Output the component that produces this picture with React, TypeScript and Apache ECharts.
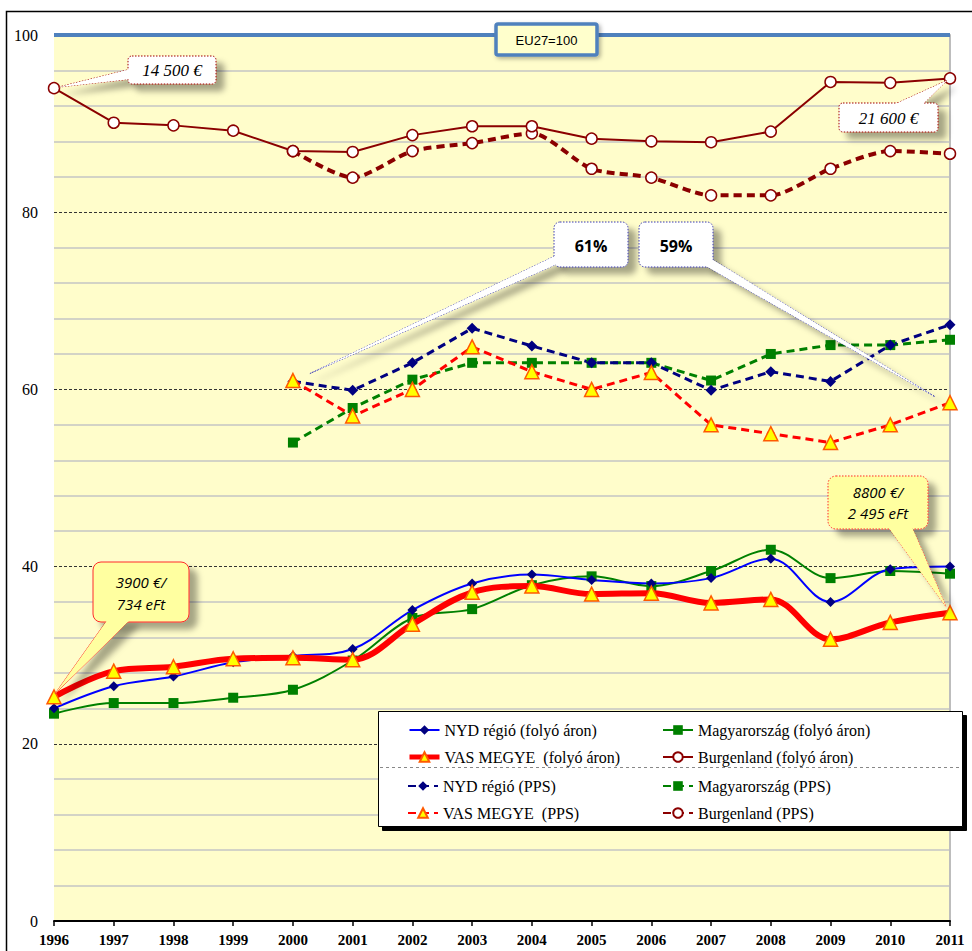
import React, { useEffect, useRef } from "react";
import * as echarts from "echarts";

const years = ["1996", "1997", "1998", "1999", "2000", "2001", "2002", "2003", "2004", "2005", "2006", "2007", "2008", "2009", "2010", "2011"];

const nydCurrent = [24.0, 26.5, 27.6, 29.2, 29.9, 30.7, 35.1, 38.1, 39.1, 38.5, 38.1, 38.7, 40.9, 36.0, 39.7, 40.0];
const huCurrent = [23.4, 24.6, 24.6, 25.2, 26.1, 29.4, 34.2, 35.2, 37.9, 38.9, 37.8, 39.5, 41.9, 38.7, 39.5, 39.2];
const vasCurrent = [25.3, 28.2, 28.7, 29.6, 29.7, 29.5, 33.5, 37.1, 37.8, 36.9, 37.0, 35.9, 36.3, 31.8, 33.7, 34.8];
const burgCurrent = [94.0, 90.1, 89.8, 89.2, 86.9, 86.8, 88.7, 89.7, 89.7, 88.3, 88.0, 87.9, 89.1, 94.7, 94.6, 95.1];

const nydPPS = [null, null, null, null, 60.9, 59.9, 63.0, 66.9, 64.9, 63.0, 63.0, 59.9, 62.0, 60.9, 65.0, 67.3];
const huPPS = [null, null, null, null, 54.0, 57.9, 61.1, 63.0, 63.0, 63.0, 63.0, 61.0, 64.0, 65.0, 65.0, 65.6];
const vasPPS = [null, null, null, null, 61.0, 57.0, 60.0, 64.8, 62.0, 60.0, 61.9, 56.0, 55.0, 54.0, 56.0, 58.5];
const burgPPS = [null, null, null, null, 86.9, 83.9, 86.9, 87.8, 88.9, 84.9, 83.9, 81.9, 81.9, 84.9, 86.9, 86.6];

const names = {
  nydC: "NYD régió (folyó áron)",
  huC: "Magyarország (folyó áron)",
  vasC: "VAS MEGYE  (folyó áron)",
  burgC: "Burgenland (folyó áron)",
  nydP: "NYD régió (PPS)",
  huP: "Magyarország (PPS)",
  vasP: "VAS MEGYE  (PPS)",
  burgP: "Burgenland (PPS)",
};

const SERIF = "'Liberation Serif', 'Times New Roman', serif";
const SANS = "'Open Sans', 'Liberation Sans', sans-serif";
const DASH = [8, 5];

export default function App() {
  const ref = useRef<HTMLDivElement>(null);

  useEffect(() => {
    if (!ref.current) return;
    const chart = echarts.init(ref.current, null, { renderer: "svg" });

    const tri = { color: "#FFFF00", borderColor: "#FF5A00", borderWidth: 1.5 };
    const legendBase = {
      orient: "vertical" as const,
      itemWidth: 30,
      itemHeight: 12,
      itemGap: 9,
      textStyle: { fontFamily: SERIF, fontSize: 16, color: "#000", lineHeight: 18 },
      z: 6,
    };

    chart.setOption({
      animation: false,
      backgroundColor: "#ffffff",
      grid: { left: 54, right: 22, top: 35, bottom: 30, show: true, backgroundColor: "#FFFDCB", borderWidth: 0 },
      legend: [
        {
          ...legendBase,
          left: 402,
          top: 716,
          data: [{ name: names.nydC }, { name: names.vasC, lineStyle: { width: 5 } }],
        },
        { ...legendBase, left: 657, top: 716, data: [names.huC, names.burgC] },
        { ...legendBase, left: 402, top: 772, data: [names.nydP, names.vasP] },
        { ...legendBase, left: 657, top: 772, data: [names.huP, names.burgP] },
      ],
      xAxis: {
        type: "category",
        data: years,
        boundaryGap: false,
        axisLine: { lineStyle: { color: "#000", width: 2 } },
        axisTick: { show: true, length: 5, lineStyle: { color: "#000", width: 1.5 } },
        axisLabel: { fontFamily: SERIF, fontSize: 15, fontWeight: "bold", color: "#000", margin: 11 },
        splitLine: { show: false },
      },
      yAxis: [
        {
          type: "value",
          min: 0,
          max: 100,
          interval: 4,
          axisLine: {
            show: true,
            lineStyle: { color: "#9A9A9A", width: 3, shadowColor: "rgba(0,0,0,0.35)", shadowBlur: 4, shadowOffsetX: -2 },
          },
          axisTick: { show: false },
          axisLabel: {
            fontFamily: SERIF,
            fontSize: 16,
            color: "#000",
            margin: 16,
            formatter: (v: number) => (v % 20 === 0 ? String(v) : ""),
          },
          splitLine: {
            show: true,
            lineStyle: { color: ["rgba(0,0,0,0)", "#C4C4C4", "#C4C4C4", "#C4C4C4", "#C4C4C4"], width: 1.5 },
          },
        },
        {
          type: "value",
          min: 0,
          max: 100,
          interval: 20,
          position: "right",
          axisLine: { show: true, lineStyle: { color: "#BDBDBD", width: 2 } },
          axisTick: { show: false },
          axisLabel: { show: false },
          splitLine: { show: true, lineStyle: { color: "#333", width: 1, type: [3, 2] } },
        },
      ],
      series: [
        {
          name: names.burgP,
          type: "line",
          data: burgPPS,
          smooth: 0.25,
          symbol: "circle",
          symbolSize: 11,
          lineStyle: { color: "#8B0000", width: 4, type: DASH },
          itemStyle: { color: "#FFFFFF", borderColor: "#8B0000", borderWidth: 1.5 },
          z: 3,
        },
        {
          name: names.burgC,
          type: "line",
          data: burgCurrent,
          symbol: "circle",
          symbolSize: 11,
          lineStyle: { color: "#8B0000", width: 2 },
          itemStyle: { color: "#FFFFFF", borderColor: "#8B0000", borderWidth: 1.5 },
          z: 3,
          markLine: {
            silent: true,
            symbol: "none",
            label: { show: false },
            lineStyle: { color: "#4F81BD", width: 4, type: "solid" },
            data: [{ yAxis: 100 }],
          },
        },
        {
          name: names.huP,
          type: "line",
          data: huPPS,
          symbol: "rect",
          symbolSize: 10,
          lineStyle: { color: "#008000", width: 3, type: DASH },
          itemStyle: { color: "#008000" },
          z: 3,
        },
        {
          name: names.nydP,
          type: "line",
          data: nydPPS,
          symbol: "diamond",
          symbolSize: 11,
          lineStyle: { color: "#000080", width: 3, type: DASH },
          itemStyle: { color: "#000080" },
          z: 3,
        },
        {
          name: names.vasP,
          type: "line",
          data: vasPPS,
          symbol: "triangle",
          symbolSize: 14,
          lineStyle: { color: "#FF0000", width: 3, type: DASH },
          itemStyle: tri,
          z: 4,
        },
        {
          name: names.huC,
          type: "line",
          data: huCurrent,
          smooth: 0.35,
          symbol: "rect",
          symbolSize: 10,
          lineStyle: { color: "#008000", width: 2 },
          itemStyle: { color: "#008000" },
          z: 3,
        },
        {
          name: names.nydC,
          type: "line",
          data: nydCurrent,
          smooth: 0.35,
          symbol: "diamond",
          symbolSize: 10,
          lineStyle: { color: "#0000FF", width: 2 },
          itemStyle: { color: "#000080" },
          z: 3,
        },
        {
          name: names.vasC,
          type: "line",
          data: vasCurrent,
          smooth: 0.35,
          symbol: "triangle",
          symbolSize: 14,
          lineStyle: { color: "#FF0000", width: 6 },
          itemStyle: tri,
          z: 4,
        },
      ],
    });

    const px = (idx: number, val: number) =>
      chart.convertToPixel({ xAxisIndex: 0, yAxisIndex: 0 }, [idx, val]) as number[];

    const last = years.length - 1;
    const pBurg0 = px(0, burgCurrent[0]);
    const pBurgL = px(last, burgCurrent[last]);
    const pVasP0 = px(4, vasPPS[4] as number);
    const pVasPL = px(last, vasPPS[last] as number);
    const pVas0 = px(0, vasCurrent[0]);
    const pVasL = px(last, vasCurrent[last]);

    const shadow = { shadowColor: "rgba(0,0,0,0.35)", shadowBlur: 6, shadowOffsetX: 8, shadowOffsetY: 7 };
    const dotted = [1.5, 1.5];

    const callout = (
      box: { x: number; y: number; w: number; h: number; r: number },
      wedge: number[][],
      fill: string,
      stroke: string,
      dash: number[] | null,
      lines: { text: string; y: number }[],
      font: string,
      size: number,
      weight: string,
      italic: boolean
    ) => [
      {
        type: "polygon",
        z: 20,
        shape: { points: wedge },
        style: { fill, stroke, lineWidth: 1, lineDash: dash || undefined, ...shadow },
      },
      {
        type: "rect",
        z: 21,
        shape: { x: box.x, y: box.y, width: box.w, height: box.h, r: box.r },
        style: { fill, stroke, lineWidth: 1, lineDash: dash || undefined, ...shadow },
      },
      {
        type: "polygon",
        z: 22,
        shape: { points: wedge },
        style: { fill, stroke: "none" },
      },
      ...lines.map((l) => ({
        type: "text",
        z: 23,
        x: box.x + box.w / 2,
        y: l.y,
        style: {
          text: l.text,
          fill: "#000",
          font: `${italic ? "italic " : ""}${weight} ${size}px ${font}`,
          align: "center",
          verticalAlign: "middle",
        },
      })),
    ];

    const graphic: any[] = [
      {
        type: "rect",
        z: 30,
        silent: true,
        shape: { x: 6.5, y: 11.5, width: 1000, height: 1000 },
        style: { fill: "none", stroke: "#000", lineWidth: 1.5 },
      },
      {
        type: "rect",
        z: 5,
        shape: { x: 378.5, y: 711.5, width: 584, height: 115 },
        style: { fill: "#FFFFFF", stroke: "#000", lineWidth: 1, shadowColor: "#000", shadowBlur: 0, shadowOffsetX: 4, shadowOffsetY: 4 },
      },
      {
        type: "line",
        z: 5,
        shape: { x1: 380, y1: 767.5, x2: 961, y2: 767.5 },
        style: { stroke: "#888", lineWidth: 1, lineDash: [3, 3] },
      },
      {
        type: "rect",
        z: 21,
        shape: { x: 496, y: 24, width: 101, height: 31, r: 2 },
        style: { fill: "#FFFFCC", stroke: "#4F81BD", lineWidth: 3.5, shadowColor: "rgba(0,0,0,0.3)", shadowBlur: 4, shadowOffsetX: 2, shadowOffsetY: 2 },
      },
      {
        type: "text",
        z: 22,
        x: 546.5,
        y: 40,
        style: { text: "EU27=100", fill: "#000", font: "13px 'Liberation Sans', Arial, sans-serif", align: "center", verticalAlign: "middle" },
      },
      ...callout(
        { x: 128, y: 56, w: 88, h: 28, r: 4 },
        [[131, 69], [131, 79], [pBurg0[0] + 4, pBurg0[1] - 1]],
        "#FFFFFF", "#A00000", dotted,
        [{ text: "14 500 €", y: 70 }],
        SERIF, 17, "normal", true
      ),
      ...callout(
        { x: 839, y: 103, w: 99, h: 29, r: 4 },
        [[893, 105], [922, 105], [pBurgL[0] - 3, pBurgL[1] + 2]],
        "#FFFFFF", "#A00000", dotted,
        [{ text: "21 600 €", y: 118 }],
        SERIF, 17, "normal", true
      ),
      ...callout(
        { x: 554, y: 222, w: 74, h: 45, r: 6 },
        [[557, 255], [557, 264], [pVasP0[0] + 17, pVasP0[1] - 7]],
        "#FFFFFF", "#3A3AB0", dotted,
        [{ text: "61%", y: 246 }],
        SANS, 16, "bold", false
      ),
      ...callout(
        { x: 639, y: 222, w: 74, h: 45, r: 6 },
        [[710, 258], [704, 265], [pVasPL[0] - 15, pVasPL[1] - 6]],
        "#FFFFFF", "#3A3AB0", dotted,
        [{ text: "59%", y: 246 }],
        SANS, 16, "bold", false
      ),
      ...callout(
        { x: 93, y: 562, w: 96, h: 60, r: 8 },
        [[108, 619], [131, 619], [pVas0[0] + 1, pVas0[1] - 3]],
        "#FFFFA0", "#FF2A2A", null,
        [{ text: "3900 €/", y: 582 }, { text: "734 eFt", y: 604 }],
        SANS, 15, "normal", true
      ),
      ...callout(
        { x: 828, y: 476, w: 100, h: 53, r: 8 },
        [[888, 527], [912, 527], [pVasL[0] - 4, pVasL[1] - 6]],
        "#FFFFA0", "#FF2A2A", dotted,
        [{ text: "8800 €/", y: 492 }, { text: "2 495 eFt", y: 513 }],
        SANS, 15, "normal", true
      ),
    ];

    chart.setOption({ graphic });

    return () => chart.dispose();
  }, []);

  return <div ref={ref} style={{ width: 972, height: 951, position: "absolute", left: 0, top: 0 }} />;
}
